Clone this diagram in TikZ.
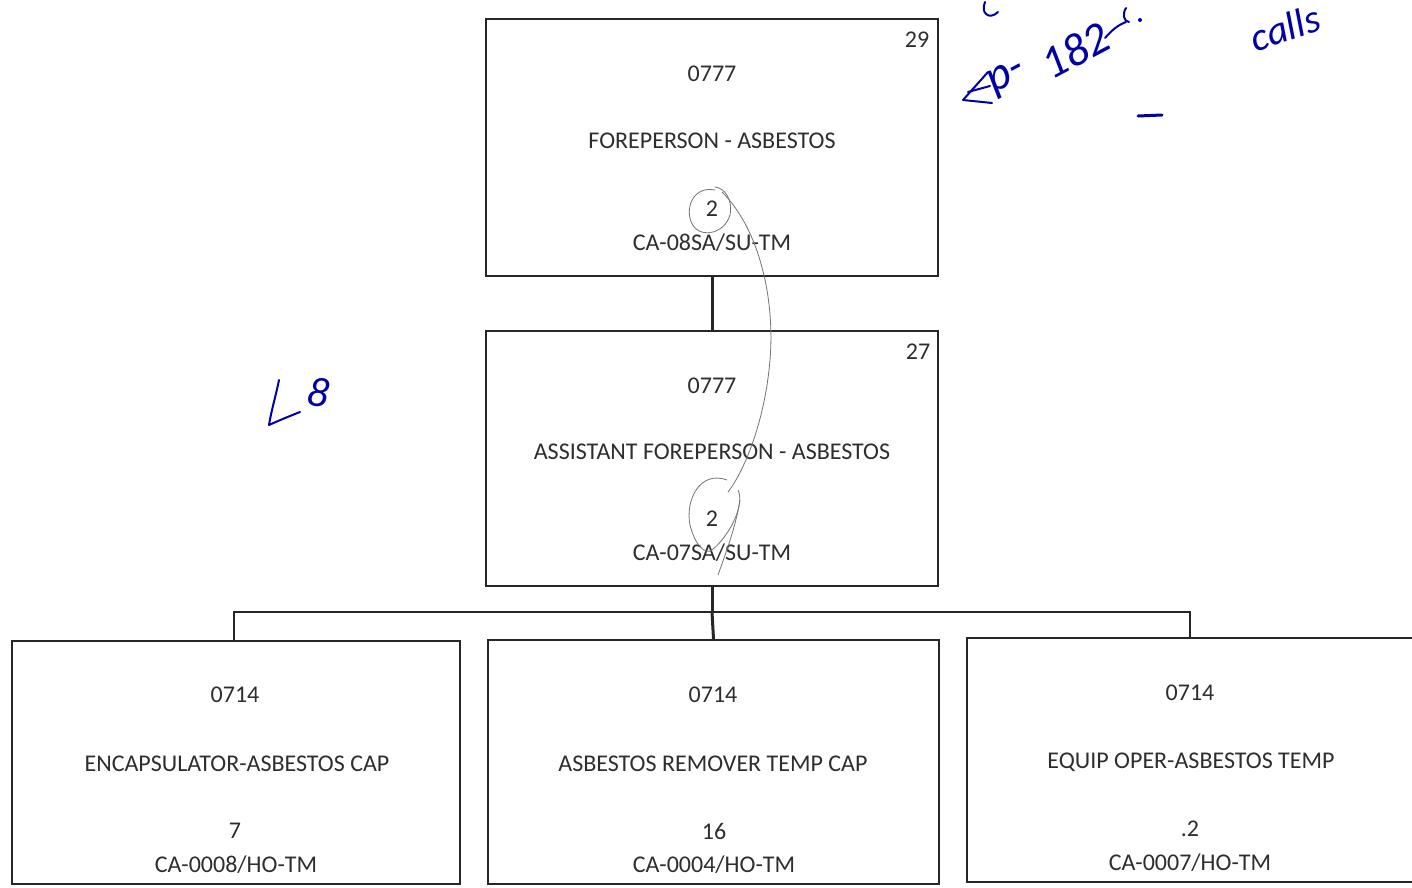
\documentclass[tikz,border=0pt]{standalone}
\usepackage{fontspec}
\setmainfont{Carlito}
\begin{document}
\begin{tikzpicture}[x=1pt,y=-1pt,
  box/.style={draw=black!85, line width=2pt, rectangle, inner sep=0pt},
  lbl/.style={font=\fontsize{24}{26}\selectfont, text=black!82, inner sep=0pt, anchor=center},
  conn/.style={draw=black!85, line width=2pt},
  thick conn/.style={draw=black!85, line width=3pt},
  hand/.style={text=blue!65!black, font=\itshape\fontsize{46}{48}\selectfont, inner sep=0pt},
  pen/.style={draw=blue!65!black, line width=2pt, line cap=round, line join=round},
  pencil/.style={draw=black!55, line width=0.8pt}]
\useasboundingbox[fill=white] (0,0) rectangle (1412,887);

% boxes
\node[box, minimum width=452pt, minimum height=257pt] (top) at (712,147.5) {};
\node[box, minimum width=452pt, minimum height=255pt] (mid) at (712,458.5) {};
\node[box, minimum width=448pt, minimum height=243pt] (bl) at (236,762.5) {};
\node[box, minimum width=451pt, minimum height=244pt] (bm) at (713.5,762) {};
\node[box, minimum width=450pt, minimum height=244pt] (br) at (1192,760) {};

% texts top
\node[lbl] (t29) at (917,40) {29};
\node[lbl] (tcode) at (712,74) {0777};
\node[lbl] (ttitle) at (712,141) {FOREPERSON - ASBESTOS};
\node[lbl] (tnum) at (712,209) {2};
\node[lbl] (tclass) at (712,243) {CA-08SA/SU-TM};
% texts middle
\node[lbl] (m27) at (918,352) {27};
\node[lbl] (mcode) at (712,386) {0777};
\node[lbl] (mtitle) at (712,452) {ASSISTANT FOREPERSON - ASBESTOS};
\node[lbl] (mnum) at (712,519) {2};
\node[lbl] (mclass) at (712,553) {CA-07SA/SU-TM};
% bottom left
\node[lbl] (lcode) at (235,695) {0714};
\node[lbl] (ltitle) at (237,764) {ENCAPSULATOR-ASBESTOS CAP};
\node[lbl] (lnum) at (235,831) {7};
\node[lbl] (lclass) at (236,865) {CA-0008/HO-TM};
% bottom middle
\node[lbl] (ccode) at (713,695) {0714};
\node[lbl] (ctitle) at (713,764) {ASBESTOS REMOVER TEMP CAP};
\node[lbl] (cnum) at (714,831) {16};
\node[lbl] (cclass) at (714,865) {CA-0004/HO-TM};
% bottom right
\node[lbl] (rcode) at (1190,693) {0714};
\node[lbl] (rtitle) at (1191,762) {EQUIP OPER-ASBESTOS TEMP};
\node[lbl] (rnum) at (1190,829) {.2};
\node[lbl] (rclass) at (1190,863) {CA-0007/HO-TM};

% connectors
\coordinate (busy) at (0,612);
\draw[thick conn] (top.south) -- (mid.north);
\draw[thick conn] (mid.south) -- (mid.south |- busy);
\draw[conn] (234,640) coordinate (blc) -- (blc |- busy) -- (1190,612) coordinate (brc) -- (1190,638);
\draw[thick conn] (mid.south |- busy) -- (bm.north);

% pencil scribbles
\draw[pencil] (715,190) .. controls (690,185) and (683,215) .. (695,228)
  .. controls (705,238) and (725,232) .. (730,215)
  .. controls (733,200) and (725,188) .. (715,187);
\draw[pencil] (722,192) .. controls (760,230) and (775,300) .. (770,360)
  .. controls (765,420) and (745,470) .. (728,492);
\draw[pencil] (727,480) .. controls (700,470) and (685,500) .. (690,525)
  .. controls (695,545) and (705,555) .. (712,550)
  .. controls (730,535) and (745,505) .. (738,490);
\draw[pencil] (740,500) .. controls (735,530) and (725,555) .. (718,575);

% handwriting (blue pen)
\draw[pen] (988,72) -- (963,100) -- (992,103);
\draw[pen] (968,92) -- (990,86);
\node[hand, rotate=28] (hp) at (1008,78) {p-};
\node[hand, rotate=28] (h182) at (1075,50) {182};
\draw[pen] (1105,38) .. controls (1112,30) and (1118,25) .. (1126,22);
\draw[pen] (1126,8) .. controls (1122,14) and (1124,22) .. (1129,22);
\fill[blue!65!black] (1140,20) circle (2pt);
\draw[pen] (985,2) .. controls (980,14) and (990,20) .. (998,12);
\node[hand, rotate=18, font=\itshape\fontsize{40}{42}\selectfont] (hc) at (1285,28) {calls};
\draw[pen, line width=3pt] (1138,116) -- (1162,115);
\draw[pen] (279,380) .. controls (276,395) and (271,412) .. (269,425)
  .. controls (280,420) and (290,416) .. (300,412);
\node[hand, rotate=-10, font=\itshape\fontsize{42}{44}\selectfont] (h8) at (318,392) {8};
\end{tikzpicture}
\end{document}
